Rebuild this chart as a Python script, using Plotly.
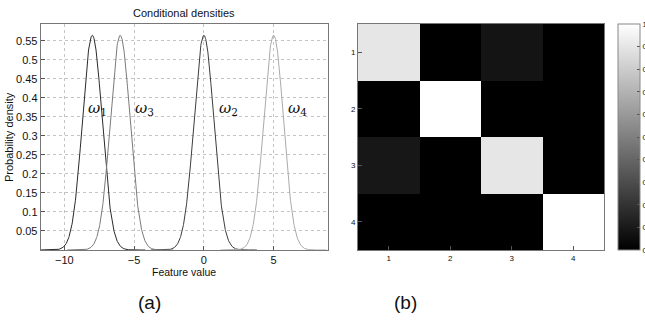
import numpy as np
import plotly.graph_objects as go

# Class-conditional Gaussian densities
class_names = ["ω1", "ω2", "ω3", "ω4"]
class_means = [-8.0, 0.0, -6.0, 5.0]
class_sigma = [0.707, 0.707, 0.707, 0.707]
curve_colors = ["#2a2a2a", "#3c3c3c", "#7a7a7a", "#aaaaaa"]
label_x = [-7.6, 1.75, -4.25, 6.7]
label_y = [0.373, 0.373, 0.373, 0.373]

density_ticks = [0.05, 0.1, 0.15, 0.2, 0.25, 0.3, 0.35, 0.4, 0.45, 0.5, 0.55]
density_tick_text = ["0.05", "0.1", "0.15", "0.2", "0.25", "0.3", "0.35", "0.4", "0.45", "0.5", "0.55"]
feature_ticks = [-10, -5, 0, 5]
feature_tick_text = ["\u221210", "\u22125", "0", "5"]

# Confusion matrix between the four classes
matrix_labels = [1, 2, 3, 4]
confusion = [
    [0.90, 0.00, 0.08, 0.00],
    [0.00, 1.00, 0.00, 0.00],
    [0.09, 0.00, 0.90, 0.00],
    [0.00, 0.00, 0.00, 1.00],
]
colorbar_ticks = [0, 0.1, 0.2, 0.3, 0.4, 0.5, 0.6, 0.7, 0.8, 0.9, 1]

FONT = "Liberation Sans, Arial, Helvetica, sans-serif"
W, H = 645, 321

fig = go.Figure()

for name, mu, sd, col in zip(class_names, class_means, class_sigma, curve_colors):
    xs = np.linspace(mu - 3.8, mu + 3.8, 400)
    ys = np.exp(-0.5 * ((xs - mu) / sd) ** 2) / (sd * np.sqrt(2 * np.pi))
    fig.add_trace(go.Scatter(x=xs, y=ys, mode="lines", name=name,
                             line=dict(color=col, width=1),
                             xaxis="x", yaxis="y", showlegend=False,
                             hoverinfo="skip"))

for name, lx, ly in zip(class_names, label_x, label_y):
    fig.add_annotation(x=lx, y=ly, xref="x", yref="y",
                       xanchor="center", yanchor="middle",
                       text="<i>%s</i><sub>%s</sub>" % (name[0], name[1]),
                       showarrow=False,
                       font=dict(family="DejaVu Serif, serif", size=15, color="#111"))

fig.add_trace(go.Heatmap(
    z=confusion, x=matrix_labels, y=matrix_labels,
    colorscale=[[0, "#000000"], [1, "#ffffff"]], zmin=0, zmax=1,
    xaxis="x2", yaxis="y2", hoverinfo="skip",
    colorbar=dict(x=618 / W, xanchor="left", xref="paper",
                  y=1 - 250 / H, yanchor="bottom", len=226 / H, lenmode="fraction",
                  thickness=22, thicknessmode="pixels",
                  outlinecolor="#888", outlinewidth=1,
                  tickvals=colorbar_ticks, ticks="inside", ticklen=3,
                  tickcolor="#555", tickfont=dict(family=FONT, size=8, color="#111"),
                  ticklabelposition="outside", xpad=0, ypad=0),
))

gx0, gx1 = 40.7 / W, 328 / W
gy0, gy1 = 1 - 250 / H, 1 - 24 / H
hx0, hx1 = 358 / W, 604 / W

axis_common = dict(showline=True, mirror=True, linecolor="#777", linewidth=1,
                   ticks="inside", ticklen=4, tickcolor="#555", zeroline=False)

fig.update_layout(
    width=W, height=H, autosize=False,
    # fixed margins: the colorbar labels run off the right edge instead of shrinking the plots
    margin=dict(l=0, r=0, t=0, b=0, autoexpand=False),
    paper_bgcolor="white", plot_bgcolor="white",
    xaxis=dict(domain=[gx0, gx1], anchor="y", range=[-11.7, 8.9],
               tickvals=feature_ticks, ticktext=feature_tick_text,
               showgrid=True, gridcolor="#c4c4c4", griddash="dot", gridwidth=1,
               tickfont=dict(family=FONT, size=11, color="#111"), **axis_common),
    yaxis=dict(domain=[gy0, gy1], anchor="x", range=[0, 0.594],
               tickvals=density_ticks, ticktext=density_tick_text,
               showgrid=True, gridcolor="#c4c4c4", griddash="dot", gridwidth=1,
               tickfont=dict(family=FONT, size=11, color="#111"), **axis_common),
    xaxis2=dict(domain=[hx0, hx1], anchor="y2", range=[0.5, 4.5],
                tickvals=matrix_labels, showgrid=False,
                tickfont=dict(family=FONT, size=8, color="#111"), **axis_common),
    yaxis2=dict(domain=[gy0, gy1], anchor="x2", range=[4.5, 0.5],
                tickvals=matrix_labels, showgrid=False,
                tickfont=dict(family=FONT, size=8, color="#111"), **axis_common),
)

# Panel titles, axis labels and subfigure tags
def paper_text(x_px, y_px, text, size, angle=0):
    fig.add_annotation(x=x_px / W, y=1 - y_px / H, xref="paper", yref="paper",
                       xanchor="center", yanchor="middle", text=text,
                       showarrow=False, textangle=angle,
                       font=dict(family=FONT, size=size, color="#111"))

paper_text((40.7 + 328) / 2, 13, "Conditional densities", 11)
paper_text((40.7 + 328) / 2, 272, "Feature value", 10.5)
paper_text(9, 137, "Probability density", 11, angle=-90)
paper_text(149, 302, "(a)", 19)
paper_text(405, 302, "(b)", 19)

fig.write_html("out.html", config={"responsive": False})
